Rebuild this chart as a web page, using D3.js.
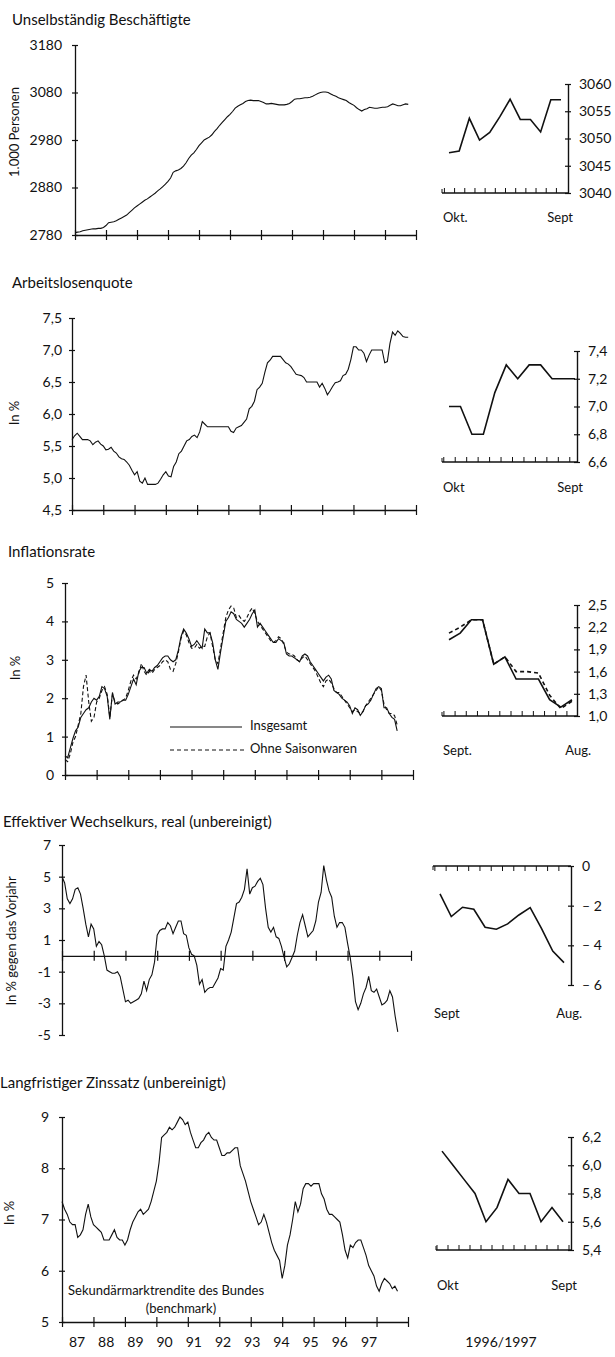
<!DOCTYPE html>
<html>
<head>
<meta charset="utf-8">
<script src="https://cdn.jsdelivr.net/npm/d3@7"></script>
<style>
body { margin: 0; background: #fff; }
svg text { font-family: "Lato", "DejaVu Sans", sans-serif; fill: #111; }
</style>
</head>
<body>
<svg id="chart" width="615" height="1357"></svg>
<script>
// monthly series, Jan 1987 onwards (index 0 = Jan 87)
const beschaeftigte = [
  2785,2786,2787,2789,2790,2791,2792,2793,2793,2794,
  2794,2796,2800,2806,2807,2808,2810,2813,2816,2819,
  2822,2827,2832,2837,2841,2845,2849,2853,2856,2860,
  2864,2868,2873,2877,2882,2887,2893,2900,2912,2915,
  2917,2920,2925,2932,2941,2948,2953,2960,2968,2974,
  2980,2983,2986,2991,2998,3004,3011,3017,3023,3029,
  3034,3040,3047,3051,3054,3057,3061,3063,3064,3063,
  3063,3063,3061,3059,3056,3056,3057,3056,3055,3054,
  3054,3054,3055,3057,3061,3066,3067,3067,3068,3069,
  3069,3070,3072,3075,3078,3080,3081,3081,3080,3077,
  3074,3072,3069,3067,3065,3063,3059,3056,3053,3048,
  3044,3041,3044,3046,3049,3048,3047,3047,3048,3049,
  3049,3050,3053,3056,3054,3052,3052,3054,3056,3055
];
const arbeitslosenquote = [
  5.6,5.66,5.7,5.65,5.6,5.6,5.6,5.58,5.52,5.56,
  5.58,5.53,5.5,5.44,5.45,5.48,5.42,5.39,5.33,5.3,
  5.29,5.25,5.2,5.12,5.05,5.1,4.95,4.92,5.0,4.9,
  4.9,4.9,4.9,4.92,4.98,5.05,5.1,5.03,5.02,5.18,
  5.25,5.38,5.42,5.5,5.58,5.6,5.65,5.67,5.63,5.72,
  5.88,5.84,5.8,5.8,5.8,5.8,5.8,5.8,5.8,5.8,
  5.8,5.73,5.71,5.78,5.8,5.82,5.87,5.92,6.08,6.12,
  6.2,6.38,6.42,6.48,6.65,6.8,6.84,6.9,6.9,6.9,
  6.9,6.85,6.8,6.78,6.74,6.68,6.62,6.61,6.6,6.57,
  6.5,6.5,6.5,6.5,6.5,6.42,6.48,6.4,6.3,6.36,
  6.43,6.49,6.5,6.52,6.6,6.62,6.7,6.85,7.05,7.05,
  7.0,7.0,6.95,6.82,6.92,7.0,7.0,7.0,7.0,7.0,
  6.8,6.82,7.1,7.28,7.23,7.3,7.26,7.21,7.2,7.2
];
const inflation = [
  0.5,0.45,0.7,0.95,1.15,1.25,1.5,1.6,1.7,1.75,
  1.9,2.0,1.95,2.05,2.3,2.25,2.05,1.45,2.15,1.85,
  1.9,1.9,1.95,1.95,2.1,2.3,2.5,2.35,2.7,2.8,
  2.8,2.65,2.75,2.7,2.8,2.85,2.95,3.05,3.1,3.1,
  3.0,2.95,3.0,3.25,3.6,3.8,3.7,3.55,3.35,3.4,
  3.5,3.4,3.3,3.8,3.7,3.7,3.45,3.0,2.75,3.2,
  3.6,4.0,4.1,4.25,4.2,4.05,4.0,3.95,3.85,3.95,
  4.05,4.2,4.3,3.85,3.95,3.85,3.75,3.65,3.55,3.45,
  3.45,3.55,3.5,3.45,3.15,3.1,3.1,3.05,3.0,2.95,
  3.1,3.15,3.1,2.95,2.85,2.75,2.65,2.55,2.45,2.55,
  2.6,2.5,2.2,2.15,2.1,2.0,1.95,1.9,1.8,1.6,
  1.75,1.7,1.55,1.65,1.8,1.85,1.95,2.1,2.25,2.3,
  2.25,1.75,1.75,1.6,1.5,1.45,1.15
];
const inflationOhneSaison = [
  0.4,0.35,0.55,0.85,1.0,1.3,1.6,2.3,2.6,1.9,
  1.4,1.5,1.9,2.0,2.2,2.3,2.1,1.5,2.1,1.9,
  1.85,1.9,1.95,2.0,2.2,2.45,2.6,2.5,2.65,2.9,
  2.7,2.6,2.7,2.65,2.75,2.8,2.85,2.95,3.0,2.95,
  2.75,2.7,2.9,3.2,3.55,3.75,3.65,3.45,3.3,3.3,
  3.4,3.3,3.35,3.35,3.6,3.7,3.35,3.0,2.9,3.3,
  3.7,4.1,4.3,4.4,4.35,4.1,4.15,4.05,4.0,4.1,
  4.25,4.35,4.2,4.0,3.9,3.8,3.7,3.6,3.5,3.45,
  3.5,3.6,3.55,3.4,3.2,3.15,3.15,3.1,3.0,2.95,
  3.05,3.1,3.0,2.9,2.8,2.7,2.55,2.4,2.3,2.45,
  2.5,2.4,2.25,2.15,2.15,2.05,1.95,1.85,1.75,1.65,
  1.7,1.65,1.6,1.65,1.8,1.9,2.0,2.1,2.2,2.3,
  2.2,1.85,1.7,1.6,1.6,1.55,1.3
];
const wechselkurs = [
  5.0,4.6,3.6,3.3,3.6,4.2,4.3,3.9,3.0,2.0,
  1.2,2.0,1.7,0.6,0.9,0.7,0.0,-0.9,-1.0,-1.1,
  -1.1,-1.0,-1.3,-2.1,-2.9,-2.8,-3.0,-2.9,-2.8,-2.7,
  -2.4,-1.6,-2.2,-1.5,-1.2,-0.4,1.3,1.6,1.7,1.7,
  2.1,1.9,1.4,1.8,2.2,2.2,1.4,1.3,0.5,0.1,
  0.0,-0.6,-1.8,-1.5,-2.3,-2.1,-2.0,-2.0,-1.7,-1.4,
  -0.8,-0.9,0.6,1.0,1.5,2.4,3.3,3.4,3.7,4.2,
  5.5,3.9,4.3,4.4,4.7,4.9,4.5,3.0,1.8,1.5,
  1.8,1.2,1.1,0.6,-0.1,-0.7,-0.5,-0.1,0.3,1.3,
  2.1,2.6,1.9,1.2,1.4,1.6,2.2,3.4,4.0,5.7,
  4.8,4.1,3.7,2.5,1.8,2.1,2.1,1.8,0.8,-0.1,
  -1.3,-2.9,-3.4,-3.0,-2.4,-2.0,-1.3,-2.2,-2.3,-2.1,
  -2.6,-3.1,-3.0,-2.8,-2.2,-2.6,-3.8,-4.8
];
const zinssatz = [
  7.35,7.2,7.1,6.95,6.9,6.9,6.65,6.7,6.8,7.1,
  7.3,7.05,6.9,6.85,6.8,6.75,6.6,6.6,6.6,6.7,
  6.8,6.65,6.6,6.6,6.5,6.6,6.8,6.95,7.05,7.15,
  7.2,7.1,7.15,7.2,7.35,7.55,7.75,8.1,8.6,8.65,
  8.7,8.8,8.75,8.8,8.9,9.0,8.95,8.85,8.9,8.7,
  8.55,8.4,8.4,8.5,8.55,8.65,8.7,8.6,8.55,8.55,
  8.4,8.25,8.25,8.3,8.3,8.35,8.4,8.4,8.05,7.9,
  7.75,7.55,7.35,7.2,7.05,6.9,6.95,7.1,6.95,6.75,
  6.55,6.4,6.3,6.2,5.85,6.1,6.5,6.7,7.0,7.35,
  7.15,7.3,7.6,7.7,7.7,7.65,7.7,7.7,7.7,7.5,
  7.4,7.2,7.1,7.1,7.05,7.0,6.95,6.7,6.4,6.25,
  6.5,6.45,6.55,6.6,6.6,6.45,6.3,6.1,6.0,5.9,
  5.7,5.6,5.75,5.85,5.8,5.75,5.65,5.7,5.6
];

// 1996/1997 insets, 12 months each
const beschInset = [3047.4,3047.7,3053.7,3049.7,3051.1,3054.0,3057.2,3053.5,3053.5,3051.2,3057.1,3057.1];
const alqInset = [7.0,7.0,6.8,6.8,7.1,7.3,7.2,7.3,7.3,7.2,7.2,7.2];
const inflInset = [2.03,2.12,2.3,2.3,1.7,1.8,1.5,1.5,1.5,1.22,1.12,1.22];
const inflOhneInset = [2.12,2.2,2.3,2.3,1.7,1.8,1.6,1.6,1.58,1.28,1.1,1.2];
const wechselInset = [-1.41,-2.55,-2.08,-2.18,-3.09,-3.19,-2.92,-2.47,-2.1,-3.14,-4.29,-4.87];
const zinsInset = [6.1,6.0,5.9,5.8,5.6,5.7,5.9,5.8,5.8,5.6,5.7,5.6];

const yearLabels = ["87","88","89","90","91","92","93","94","95","96","97"];

const comma = d => d3.format(".1f")(d).replace(".", ",");

const panels = [
  { title: "Unselbständig Beschäftigte", tx: 12, ty: 25, x0: 75, x1: 416, yTop: 45, yBot: 235,
    domain: [2780, 3180], ticks: [2780, 2880, 2980, 3080, 3180], fmt: d => d, pad: 10,
    ylabel: "1.000 Personen", lx: 16, ly: 132, series: [{ data: beschaeftigte }] },
  { title: "Arbeitslosenquote", tx: 12, ty: 288, x0: 72, x1: 416, yTop: 318, yBot: 510,
    domain: [4.5, 7.5], ticks: d3.range(4.5, 7.51, 0.5), fmt: comma, pad: 7,
    ylabel: "In %", lx: 16, ly: 413, series: [{ data: arbeitslosenquote }] },
  { title: "Inflationsrate", tx: 8, ty: 557, x0: 65, x1: 413, yTop: 583, yBot: 775,
    domain: [0, 5], ticks: [0, 1, 2, 3, 4, 5], fmt: d => d, pad: 8,
    ylabel: "In %", lx: 17, ly: 668,
    series: [{ data: inflation }, { data: inflationOhneSaison, dash: "4,2.5" }] },
  { title: "Effektiver Wechselkurs, real (unbereinigt)", tx: 3, ty: 827, x0: 62, x1: 411, yTop: 845, yBot: 1035,
    domain: [-5, 7], ticks: [-5, -3, -1, 1, 3, 5, 7], fmt: d => String(d), pad: 8, zeroAxis: true,
    ylabel: "In % gegen das Vorjahr", lx: 13, ly: 941, series: [{ data: wechselkurs }] },
  { title: "Langfristiger Zinssatz (unbereinigt)", tx: 0, ty: 1088, x0: 62, x1: 408, yTop: 1117, yBot: 1322,
    domain: [5, 9], ticks: [5, 6, 7, 8, 9], fmt: d => d, pad: 10,
    ylabel: "In %", lx: 11, ly: 1213, series: [{ data: zinssatz }] }
];

const insets = [
  { data: [beschInset], ax: 568, ax0: 442, px0: 449, px1: 561, yTop: 84, yBot: 193, domain: [3040, 3060],
    ticks: [3040, 3045, 3050, 3055, 3060], fmt: d => d, left: "Okt.", right: "Sept", lxr: 573, labY: 222 },
  { data: [alqInset], ax: 577, ax0: 442, px0: 449, px1: 575, yTop: 351, yBot: 462, domain: [6.6, 7.4],
    ticks: [6.6, 6.8, 7.0, 7.2, 7.4], fmt: comma, left: "Okt", right: "Sept", lxr: 583, labY: 492 },
  { data: [inflInset, inflOhneInset], ax: 577, ax0: 442, px0: 449, px1: 572, yTop: 605, yBot: 716, domain: [1.0, 2.5],
    ticks: [1.0, 1.3, 1.6, 1.9, 2.2, 2.5], fmt: comma, left: "Sept.", right: "Aug.", lxr: 591, labY: 755 },
  { data: [wechselInset], ax: 571, ax0: 433, px0: 440, px1: 564, yTop: 866, yBot: 985, domain: [-6, 0], top: true,
    ticks: [-6, -4, -2, 0], fmt: d => d === 0 ? "0" : "\u2013 " + Math.abs(d), left: "Sept", right: "Aug.", lxr: 582, labY: 1018 },
  { data: [zinsInset], ax: 571, ax0: 436, px0: 442, px1: 563, yTop: 1137, yBot: 1250, domain: [5.4, 6.2],
    ticks: [5.4, 5.6, 5.8, 6.0, 6.2], fmt: comma, left: "Okt", right: "Sept", lxr: 577, labY: 1290 }
];

const svg = d3.select("#chart");

panels.forEach((p, k) => {
  const x = d3.scaleLinear().domain([0, 132]).range([p.x0, p.x1]);
  const y = d3.scaleLinear().domain(p.domain).range([p.yBot, p.yTop]);
  const g = svg.append("g");

  g.append("text").attr("x", p.tx).attr("y", p.ty).attr("font-size", 15).text(p.title);

  g.append("text")
    .attr("transform", `translate(${p.lx},${p.ly}) rotate(-90)`)
    .attr("text-anchor", "middle").attr("dominant-baseline", "middle")
    .attr("font-size", 13).text(p.ylabel);

  g.append("g").attr("transform", `translate(${p.x0},0)`)
    .call(d3.axisLeft(y).tickValues(p.ticks).tickSize(3).tickSizeOuter(0).tickPadding(p.pad).tickFormat(p.fmt))
    .attr("font-size", 14)
    .call(a => {
      a.select(".domain").attr("stroke", "#111").attr("stroke-width", 1.3);
      a.selectAll(".tick line").attr("x1", 3).attr("stroke", "#111").attr("stroke-width", 1.2);
    });

  const axisY = p.zeroAxis ? y(0) : p.yBot;
  g.append("g").attr("transform", `translate(0,${axisY})`)
    .call(d3.axisBottom(x).tickValues(d3.range(0, 133, 12)).tickSize(5).tickSizeOuter(0).tickFormat(""))
    .call(a => {
      a.select(".domain").attr("stroke", "#111").attr("stroke-width", 1.3);
      a.selectAll(".tick line").attr("y1", -5).attr("stroke", "#111").attr("stroke-width", 1.2);
    });

  const line = d3.line().x((d, i) => x(i)).y(d => y(d));
  p.series.forEach(s => {
    g.append("path").datum(s.data)
      .attr("fill", "none").attr("stroke", "#111").attr("stroke-width", 1.1)
      .attr("stroke-dasharray", s.dash || null)
      .attr("d", line);
  });

  if (k === 2) {
    // legend
    const leg = [{ t: "Insgesamt", y: 727 }, { t: "Ohne Saisonwaren", y: 750, dash: "4,3" }];
    leg.forEach(l => {
      g.append("line").attr("x1", 170).attr("x2", l.dash ? 246 : 242).attr("y1", l.y).attr("y2", l.y)
        .attr("stroke", "#111").attr("stroke-width", 1.1).attr("stroke-dasharray", l.dash || null);
      g.append("text").attr("x", 250).attr("y", l.y).attr("dominant-baseline", "middle")
        .attr("font-size", 13).text(l.t);
    });
  }

  if (k === 4) {
    g.append("text").attr("x", 68).attr("y", 1295).attr("font-size", 13)
      .text("Sekundärmarktrendite des Bundes");
    g.append("text").attr("x", 181).attr("y", 1313).attr("text-anchor", "middle").attr("font-size", 13)
      .text("(benchmark)");
    const yl = d3.scalePoint().domain(yearLabels).range([77, 369]);
    g.selectAll(".yr").data(yearLabels).join("text")
      .attr("x", d => yl(d)).attr("y", 1347).attr("text-anchor", "middle")
      .attr("font-size", 14).text(d => d);
    g.append("text").attr("x", 501).attr("y", 1347).attr("text-anchor", "middle")
      .attr("font-size", 14).text("1996/1997");
  }
});

insets.forEach(p => {
  const x = d3.scaleLinear().domain([0, 11]).range([p.px0, p.px1]);
  const y = d3.scaleLinear().domain(p.domain).range([p.yBot, p.yTop]);
  const g = svg.append("g");

  g.append("g").attr("transform", `translate(${p.ax},0)`)
    .call(d3.axisRight(y).tickValues(p.ticks).tickSize(3).tickSizeOuter(0).tickPadding(8).tickFormat(p.fmt))
    .attr("font-size", 14)
    .call(a => {
      a.select(".domain").attr("stroke", "#111").attr("stroke-width", 1.4);
      a.selectAll(".tick line").attr("x1", -3).attr("stroke", "#111").attr("stroke-width", 1.2);
    });

  const axisY = p.top ? p.yTop : p.yBot;
  const tv = d3.range(-0.5, 11.6, 1).filter(v => x(v) > p.ax0 && x(v) < p.ax - 2);
  g.append("g").attr("transform", `translate(0,${axisY})`)
    .call(d3.axisBottom(x).tickValues(tv).tickSize(p.top ? 5 : -5).tickSizeOuter(0).tickFormat(""))
    .call(a => {
      a.select(".domain").remove();
      a.selectAll(".tick line").attr("stroke", "#111").attr("stroke-width", 1);
    });
  g.append("line").attr("x1", p.ax0).attr("x2", p.ax).attr("y1", axisY).attr("y2", axisY)
    .attr("stroke", "#111").attr("stroke-width", 1.4);
  g.append("line").attr("x1", p.ax0).attr("x2", p.ax0)
    .attr("y1", axisY).attr("y2", axisY + (p.top ? 4 : -4))
    .attr("stroke", "#111").attr("stroke-width", 1);

  const line = d3.line().x((d, i) => x(i)).y(d => y(d));
  p.data.forEach((s, i) => {
    g.append("path").datum(s)
      .attr("fill", "none").attr("stroke", "#111").attr("stroke-width", 1.6)
      .attr("stroke-dasharray", i === 1 ? "4,3" : null)
      .attr("d", line);
  });

  g.append("text").attr("x", p.ax0 + 1).attr("y", p.labY).attr("font-size", 13).text(p.left);
  g.append("text").attr("x", p.lxr).attr("y", p.labY).attr("text-anchor", "end")
    .attr("font-size", 13).text(p.right);
});
</script>
</body>
</html>
